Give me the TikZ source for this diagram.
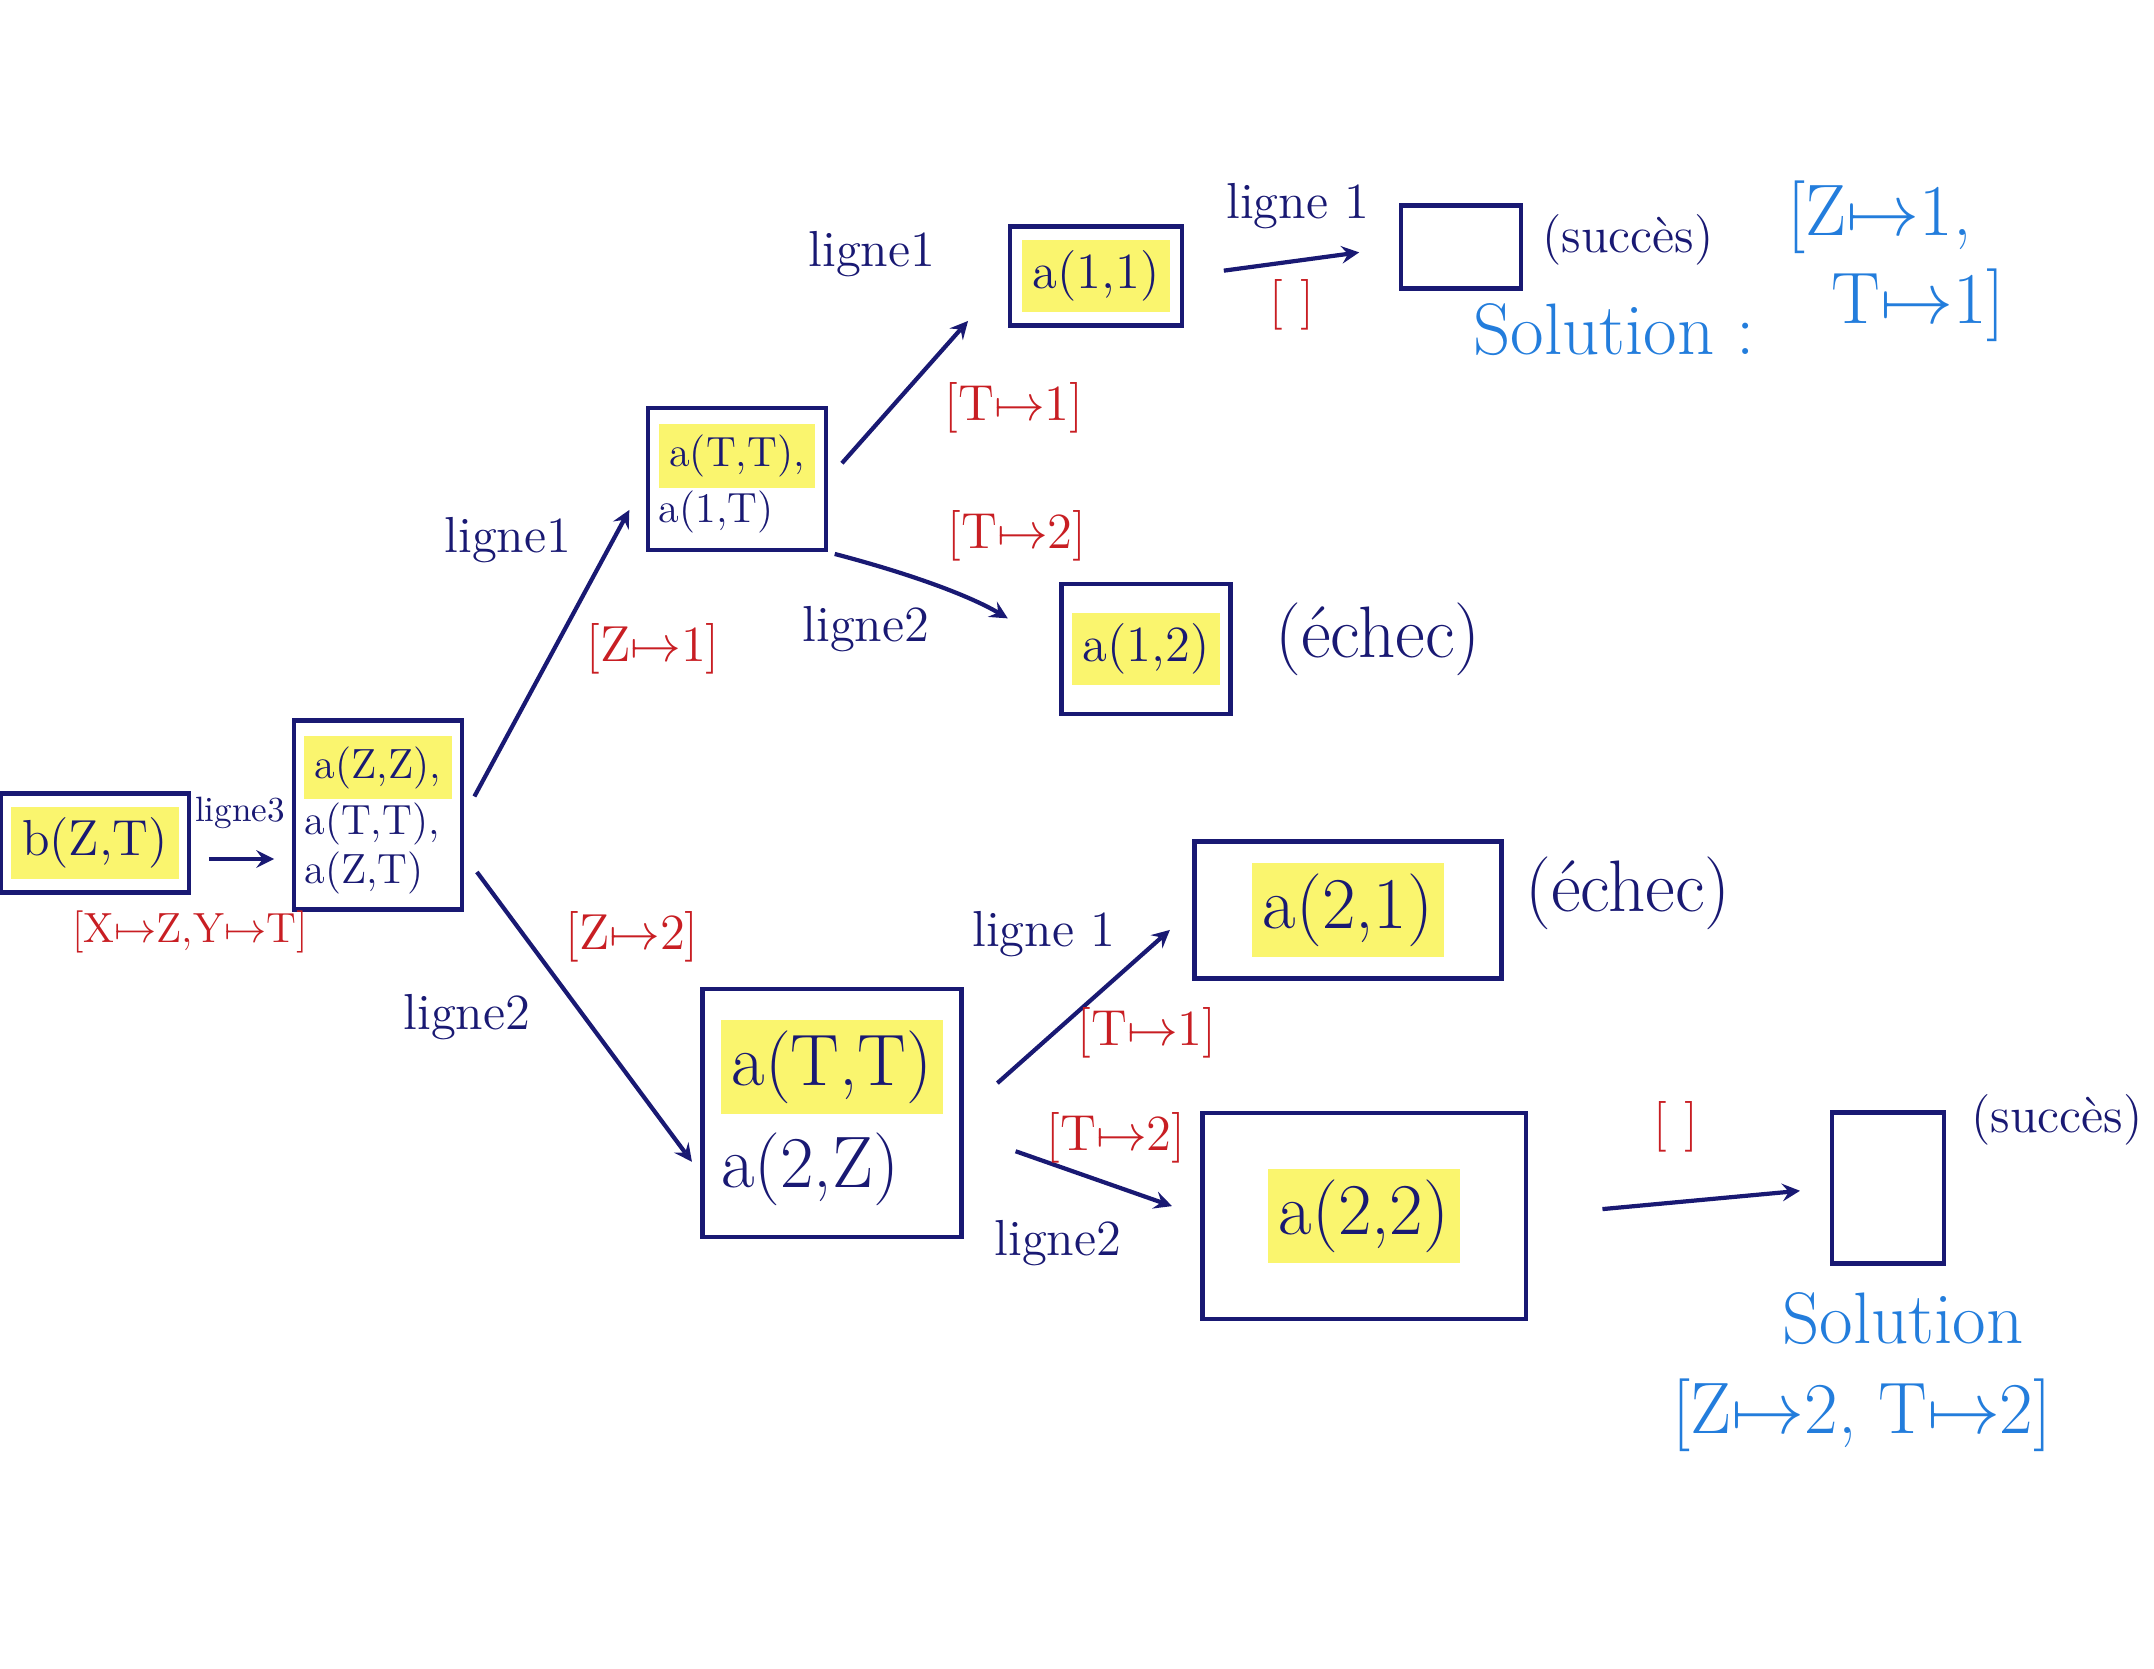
\documentclass[tikz,border=0pt]{standalone}
\usepackage{amsmath}
\usepackage{tikz}

\definecolor{ink}{RGB}{25,25,115}
\definecolor{subst}{RGB}{200,30,35}
\definecolor{solblue}{RGB}{35,125,220}
\definecolor{hlyellow}{RGB}{250,245,110}
\newcommand{\hl}[1]{\colorbox{hlyellow}{#1}}
\newcommand{\mt}{$\mapsto$}

\tikzset{
  goal/.style={draw=ink, text=ink, line width=1.2pt, align=left, inner sep=3pt, font=\Large},
  link/.style={->, draw=ink, line width=1.2pt},
  rule/.style={text=ink, font=\Large},
  subs/.style={text=subst, font=\Large},
  solution/.style={text=solblue, font=\huge},
}

\begin{document}
\begin{tikzpicture}[x=0.01cm, y=-0.01cm, >=stealth]
    \useasboundingbox (0,0) rectangle (2154,1668);
    % goals
    \node[goal, minimum width=1.58cm, minimum height=0.99cm] (g0) at (95,843) {\hl{b(Z,T)}};
    \node[goal, font=\large, minimum width=1.51cm, minimum height=1.89cm] (g1) at (378,815)
        {\hl{a(Z,Z),}\\ a(T,T),\\ a(Z,T)};
    \node[goal, font=\large, minimum width=1.61cm, minimum height=1.42cm] (g2) at (737,479)
        {\hl{a(T,T),}\\ a(1,T)};
    \node[goal, minimum width=1.72cm, minimum height=0.99cm] (g3) at (1096,276) {\hl{a(1,1)}};
    \node[goal, minimum width=1.68cm, minimum height=1.30cm] (f1) at (1146,649) {\hl{a(1,2)}};
    \node[goal, font=\huge, minimum width=2.59cm, minimum height=2.48cm] (g4) at (832,1113)
        {\hl{a(T,T)}\\[4pt] a(2,Z)};
    \node[goal, font=\huge, minimum width=3.07cm, minimum height=1.37cm] (f2) at (1348,910) {\hl{a(2,1)}};
    \node[goal, font=\huge, minimum width=3.23cm, minimum height=2.06cm] (g5) at (1364,1216) {\hl{a(2,2)}};
    % empty goals
    \node[goal, minimum width=1.20cm, minimum height=0.83cm] (s1) at (1461,247) {};
    \node[goal, minimum width=1.12cm, minimum height=1.51cm] (s2) at (1888,1188) {};

    % root
    \draw[link, shorten <=5pt, shorten >=5pt] ([yshift=-0.16cm]g0.east) -- ([yshift=-0.16cm]g0.east -| g1.west);
    \node[rule, font=\normalsize] (l0) at (240,813) {ligne3};
    \node[subs, font=\large] (r0) at (190,932) {[X\mt Z,Y\mt T]};

    % Z = 1
    \draw[link, shorten <=6pt, shorten >=10pt] (g1.east) -- (g2.west);
    \node[rule] (l1) at (508,540) {ligne1};
    \node[subs] (r1) at (653,649) {[Z\mt 1]};
    \draw[link, shorten <=6pt, shorten >=0.6cm] (g2.east) -- (g3.west);
    \node[rule] (l11) at (872,254) {ligne1};
    \node[subs] (r11) at (1014,408) {[T\mt 1]};
    \draw[link, shorten <=0.4cm, shorten >=0.4cm] (g3.east) -- (s1.west);
    \node[rule] (l111) at (1298,206) {ligne 1};
    \node[subs] (r111) at (1292,305) {[ ]};
    \draw[link, shorten <=2pt, shorten >=0.6cm] (g2.south east) to[bend left=8] (f1.west);
    \node[rule] (l12) at (866,629) {ligne2};
    \node[subs] (r12) at (1017,536) {[T\mt 2]};

    % Z = 2
    \draw[link, shorten <=6pt, shorten >=4pt] ([yshift=-0.4cm]g1.east) -- ([yshift=-0.6cm]g4.west);
    \node[rule] (l2) at (467,1017) {ligne2};
    \node[subs] (r2) at (632,937) {[Z\mt 2]};
    \draw[link, shorten <=0.45cm, shorten >=0.3cm] (g4.east) -- (f2.west);
    \node[rule] (l21) at (1044,934) {ligne 1};
    \node[subs] (r21) at (1147,1033) {[T\mt 1]};
    \draw[link, shorten <=0.55cm, shorten >=0.3cm] ([yshift=-0.2cm]g4.east) -- (g5.west);
    \node[rule] (l22) at (1058,1243) {ligne2};
    \node[subs] (r22) at (1116,1138) {[T\mt 2]};
    \draw[link, shorten <=0.75cm, shorten >=0.3cm] (g5.east) -- (s2.west);
    \node[subs] (r221) at (1676,1127) {[ ]};

    % outcomes
    \node[rule] (o1) at (1628,240) {(succès)};
    \node[rule, font=\huge] (o2) at (1378,639) {(échec)};
    \node[rule, font=\huge] (o3) at (1628,893) {(échec)};
    \node[rule] (o4) at (2057,1120) {(succès)};
    % solutions
    \node[solution] (sol1) at (1614,330) {Solution :};
    \node[solution, align=left] (sub1) at (1896,261) {[Z\mt 1,\\ \ \ T\mt 1]};
    \node[solution] (sol2) at (1903,1319) {Solution};
    \node[solution] (sub2) at (1862,1415) {[Z\mt 2, T\mt 2]};
\end{tikzpicture}
\end{document}
